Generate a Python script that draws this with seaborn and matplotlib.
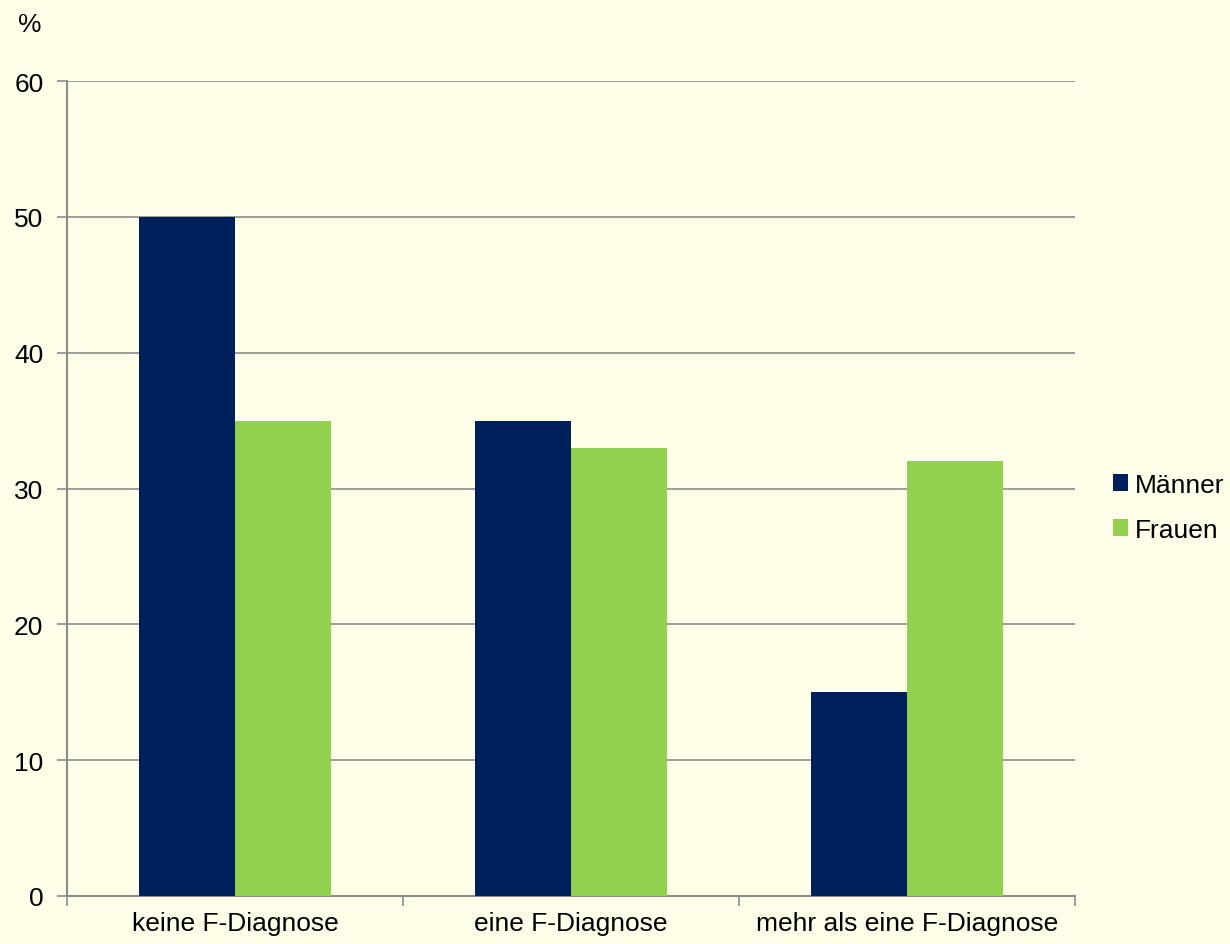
import matplotlib
matplotlib.use("Agg")
import matplotlib.pyplot as plt
import seaborn as sns
import pandas as pd
from matplotlib.ticker import FixedLocator

categories = ["keine F-Diagnose", "eine F-Diagnose", "mehr als eine F-Diagnose"]
maenner = [50, 35, 15]
frauen = [35, 33, 32]
series = ["Männer", "Frauen"]
yticks = [0, 10, 20, 30, 40, 50, 60]

bg = "#FFFEE8"
colors = {"Männer": "#00205C", "Frauen": "#92D050"}

sns.set_theme(style="white")
plt.rcParams['font.family'] = ['Liberation Sans', 'DejaVu Sans']

df = pd.DataFrame({
    "Kategorie": categories * 2,
    "Wert": maenner + frauen,
    "Geschlecht": [series[0]] * 3 + [series[1]] * 3,
})

fs = 19

fig = plt.figure(figsize=(12.3, 9.45), dpi=100, facecolor=bg)
ax = fig.add_axes([67/1230, 1-897/945, (1075-67)/1230, (897-82)/945])
ax.set_facecolor(bg)

sns.barplot(data=df, x="Kategorie", y="Wert", hue="Geschlecht", order=categories,
            hue_order=series, palette=colors, width=0.571, saturation=1,
            linewidth=0, ax=ax, zorder=3)

ax.set_xlim(-0.5, 2.5)
ax.set_ylim(0, 60)
ax.set_yticks(yticks)
ax.yaxis.grid(True, color="#8C8C8C", linewidth=1.2, zorder=0)
ax.set_axisbelow(True)
for s in ["top", "right"]:
    ax.spines[s].set_visible(False)
for s in ["left", "bottom"]:
    ax.spines[s].set_color("#8C8C8C")
    ax.spines[s].set_linewidth(1.5)

ax.tick_params(axis="y", which="major", direction="out", length=7, width=1.2,
               color="#8C8C8C", labelsize=fs, labelcolor="black", pad=10, left=True)
ax.tick_params(axis="x", which="major", length=0, labelsize=fs, labelcolor="black", pad=11)
ax.xaxis.set_minor_locator(FixedLocator([-0.5, 0.5, 1.5, 2.5]))
ax.tick_params(axis="x", which="minor", direction="out", length=7, width=1.2,
               color="#8C8C8C", bottom=True)
ax.set_xlabel("")
ax.set_ylabel("")

fig.text(30/1230, 1-25/945, "%", fontsize=fs, ha="center", va="center", color="black")

leg = ax.legend(loc="center left", bbox_to_anchor=(1.019, 0.477), frameon=False,
                fontsize=fs, handlelength=0.6, handleheight=0.6, handletextpad=0.25,
                labelspacing=0.8, borderaxespad=0.3)
for t in leg.get_texts():
    t.set_color("black")

fig.savefig("out.png", dpi=100, facecolor=bg)
